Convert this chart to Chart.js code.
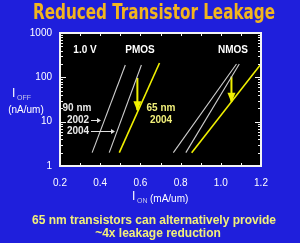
<!DOCTYPE html>
<html>
<head>
<meta charset="utf-8">
<script src="https://cdn.jsdelivr.net/npm/chart.js@4/dist/chart.umd.min.js"></script>
<style>
  html, body { margin: 0; padding: 0; background: #1f1fdc; }
  #wrap { position: relative; width: 300px; height: 243px; }
</style>
</head>
<body>
<div id="wrap"><canvas id="leakChart" width="300" height="243"></canvas></div>
<script>
// Data (I_ON in mA/um, I_OFF in nA/um)
const X_TICKS = [0.2, 0.4, 0.6, 0.8, 1.0, 1.2];
const Y_TICKS = [1, 10, 100, 1000];

const pmos2002X = [0.36, 0.525];
const pmos2002Y = [2, 190];
const pmos2004X = [0.445, 0.605];
const pmos2004Y = [2, 190];
const pmos65X = [0.495, 0.695];
const pmos65Y = [2, 211];

const nmos2002X = [0.764, 1.078];
const nmos2002Y = [2, 200];
const nmos2004X = [0.826, 1.092];
const nmos2004Y = [2, 200];
const nmos65X = [0.855, 1.2];
const nmos65Y = [2, 200];

// leakage reduction arrows
const pmosArrowX = [0.585, 0.585];
const pmosArrowY = [97, 18];
const nmosArrowX = [1.053, 1.053];
const nmosArrowY = [104, 28];

const WHITE = '#cfcfcf';
const YELLOW = '#f0f000';
const TEXT_YELLOW = '#f2f07a';

function pts(xs, ys) {
    return xs.map((x, i) => ({ x: x, y: ys[i] }));
}

function lineSet(xs, ys, color, width) {
    return {
        data: pts(xs, ys),
        borderColor: color,
        borderWidth: width,
        pointRadius: 0,
        tension: 0,
        fill: false
    };
}

// Black plot area + white frame with inner ticks
const framePlugin = {
    id: 'frame',
    beforeDatasetsDraw(chart) {
        const { ctx, chartArea: a } = chart;
        ctx.save();
        ctx.fillStyle = '#000';
        ctx.fillRect(a.left, a.top, a.right - a.left, a.bottom - a.top);
        ctx.restore();
    },
    afterDatasetsDraw(chart) {
        const { ctx, chartArea: a, scales } = chart;
        ctx.save();
        ctx.strokeStyle = '#f4f4f4';
        ctx.lineWidth = 1;
        // minor/major log ticks on left and right
        for (let d = 1; d < 1000; d *= 10) {
            for (let m = 1; m <= 10; m++) {
                const v = d * m;
                if (v > 1000) continue;
                const py = Math.round(scales.y.getPixelForValue(v)) + 0.5;
                const len = (m === 1 || m === 10) ? 6 : 3;
                ctx.beginPath();
                ctx.moveTo(a.left, py); ctx.lineTo(a.left + len, py);
                ctx.moveTo(a.right, py); ctx.lineTo(a.right - len, py);
                ctx.stroke();
            }
        }
        for (let v = 0.2; v <= 1.2001; v += 0.1) {
            const px = Math.round(scales.x.getPixelForValue(v)) + 0.5;
            ctx.beginPath();
            ctx.moveTo(px, a.bottom); ctx.lineTo(px, a.bottom - 3);
            ctx.moveTo(px, a.top); ctx.lineTo(px, a.top + 3);
            ctx.stroke();
        }
        ctx.lineWidth = 2;
        ctx.strokeRect(a.left, a.top, a.right - a.left, a.bottom - a.top);

        // arrow heads on the yellow arrows
        ctx.fillStyle = YELLOW;
        [[pmosArrowX, pmosArrowY], [nmosArrowX, nmosArrowY]].forEach(([ax, ay]) => {
            const px = scales.x.getPixelForValue(ax[1]);
            const py = scales.y.getPixelForValue(ay[1]);
            ctx.beginPath();
            ctx.moveTo(px, py + 1);
            ctx.lineTo(px - 4, py - 9);
            ctx.lineTo(px + 4, py - 9);
            ctx.closePath();
            ctx.fill();
        });

        // labels inside the plot
        ctx.font = 'bold 10px "Liberation Sans", Arial, sans-serif';
        ctx.textAlign = 'center';
        ctx.textBaseline = 'middle';
        ctx.fillStyle = '#ffffff';
        ctx.fillText('1.0 V', 85, 50);
        ctx.fillText('PMOS', 140, 50);
        ctx.fillText('NMOS', 233, 50);
        ctx.fillStyle = '#e8e8e8';
        ctx.fillText('90 nm', 77, 108);
        ctx.fillText('2002', 78, 120);
        ctx.fillText('2004', 78, 131);
        ctx.fillStyle = TEXT_YELLOW;
        ctx.fillText('65 nm', 161, 108);
        ctx.fillText('2004', 161, 120);

        // small pointers from the year labels to the lines
        ctx.strokeStyle = '#e0e0e0';
        ctx.fillStyle = '#e0e0e0';
        ctx.lineWidth = 1;
        [[91, 101, 120], [91, 115, 131]].forEach(([x0, x1, y]) => {
            ctx.beginPath();
            ctx.moveTo(x0, y + 0.5); ctx.lineTo(x1 - 3, y + 0.5);
            ctx.stroke();
            ctx.beginPath();
            ctx.moveTo(x1, y + 0.5);
            ctx.lineTo(x1 - 4, y - 2);
            ctx.lineTo(x1 - 4, y + 3);
            ctx.closePath();
            ctx.fill();
        });
        ctx.restore();
    }
};

// Titles and axis captions with subscripts
const textPlugin = {
    id: 'texts',
    afterDraw(chart) {
        const { ctx } = chart;
        ctx.save();
        ctx.textBaseline = 'middle';
        ctx.textAlign = 'center';
        ctx.fillStyle = '#f2b51e';
        ctx.font = 'bold 22px "DejaVu Sans Condensed", "Liberation Sans", sans-serif';
        ctx.fillText('Reduced Transistor Leakage', 154, 13, 242);

        // y caption
        ctx.fillStyle = '#ffffff';
        ctx.textAlign = 'left';
        ctx.font = '12px "Liberation Sans", Arial, sans-serif';
        ctx.fillText('I', 12, 94);
        ctx.font = '7px "Liberation Sans", Arial, sans-serif';
        ctx.fillStyle = '#c8c8e8';
        ctx.fillText('OFF', 17, 98);
        ctx.fillStyle = '#ffffff';
        ctx.font = '10px "Liberation Sans", Arial, sans-serif';
        ctx.textAlign = 'center';
        ctx.fillText('(nA/um)', 26, 110);

        // x caption
        ctx.textAlign = 'left';
        ctx.font = '12px "Liberation Sans", Arial, sans-serif';
        ctx.fillText('I', 132, 197);
        ctx.font = '7px "Liberation Sans", Arial, sans-serif';
        ctx.fillStyle = '#c8c8e8';
        ctx.fillText('ON', 137, 201);
        ctx.fillStyle = '#ffffff';
        ctx.font = '10px "Liberation Sans", Arial, sans-serif';
        ctx.fillText('(mA/um)', 150, 199);

        // bottom note
        ctx.textAlign = 'center';
        ctx.fillStyle = TEXT_YELLOW;
        ctx.font = 'bold 12px "Liberation Sans", Arial, sans-serif';
        ctx.fillText('65 nm transistors can alternatively provide', 154, 221, 254);
        ctx.fillText('~4x leakage reduction', 158, 234);
        ctx.restore();
    }
};

new Chart(document.getElementById('leakChart'), {
    type: 'line',
    data: {
        datasets: [
            lineSet(pmos2002X, pmos2002Y, WHITE, 1.1),
            lineSet(pmos2004X, pmos2004Y, WHITE, 1.1),
            lineSet(pmos65X, pmos65Y, YELLOW, 1.6),
            lineSet(nmos2002X, nmos2002Y, WHITE, 1.1),
            lineSet(nmos2004X, nmos2004Y, WHITE, 1.1),
            lineSet(nmos65X, nmos65Y, YELLOW, 1.6),
            lineSet(pmosArrowX, pmosArrowY, YELLOW, 2),
            lineSet(nmosArrowX, nmosArrowY, YELLOW, 2)
        ]
    },
    options: {
        responsive: false,
        animation: false,
        layout: { padding: { top: 33, right: 39, left: 0, bottom: 0 } },
        plugins: {
            legend: { display: false },
            tooltip: { enabled: false }
        },
        scales: {
            x: {
                type: 'linear',
                min: 0.2,
                max: 1.2,
                afterFit(scale) { scale.height = 77; },
                afterBuildTicks(scale) { scale.ticks = X_TICKS.map(v => ({ value: v })); },
                grid: { display: false, drawTicks: false },
                border: { display: false },
                ticks: {
                    color: '#ffffff',
                    padding: 11,
                    font: { size: 10, family: '"Liberation Sans", Arial, sans-serif' },
                    callback: v => v.toFixed(1)
                }
            },
            y: {
                type: 'logarithmic',
                min: 1,
                max: 1000,
                afterFit(scale) { scale.width = 60; },
                afterBuildTicks(scale) { scale.ticks = Y_TICKS.map(v => ({ value: v })); },
                grid: { display: false, drawTicks: false },
                border: { display: false },
                ticks: {
                    color: '#ffffff',
                    padding: 8,
                    autoSkip: false,
                    font: { size: 10, family: '"Liberation Sans", Arial, sans-serif' },
                    callback: v => String(v)
                }
            }
        }
    },
    plugins: [framePlugin, textPlugin]
});
</script>
</body>
</html>
